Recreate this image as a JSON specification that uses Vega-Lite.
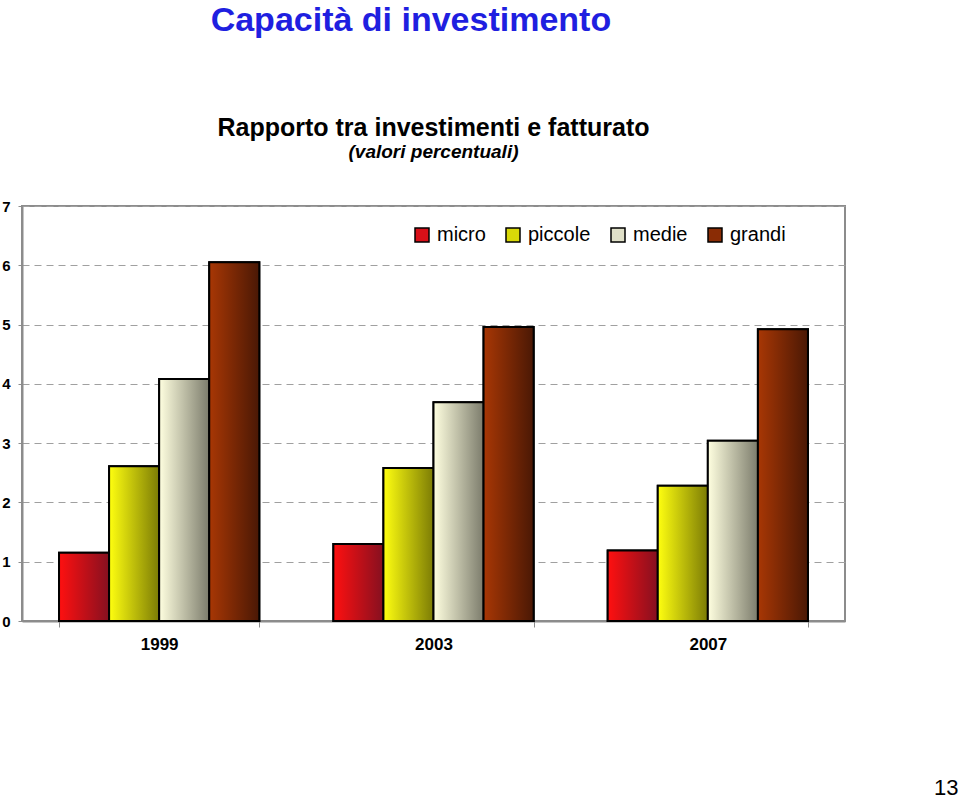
{
  "$schema": "https://vega.github.io/schema/vega-lite/v6.json",
  "padding": {"left": 0, "top": 4, "right": 0, "bottom": 0},
  "background": "white",
  "title": {"text": "Capacità di investimento", "anchor": "start", "dx": 210, "fontSize": 34, "font": "Liberation Sans", "fontWeight": "bold", "color": "#1f1fe0", "offset": 77},
  "config": {
    "view": {"stroke": "#8c8c8c", "strokeWidth": 2},
    "font": "Liberation Sans"
  },
  "vconcat": [
    {
      "width": 823,
      "height": 415,
      "title": {"text": "Rapporto tra investimenti e fatturato", "subtitle": "(valori percentuali)", "anchor": "middle", "fontSize": 25, "fontWeight": "bold", "font": "Liberation Sans", "color": "#000000", "subtitleFontSize": 19, "subtitleFontWeight": "bold", "subtitleFontStyle": "italic", "subtitleFont": "Liberation Sans", "subtitleColor": "#000000", "subtitlePadding": 2, "offset": 37},
      "data": {"values": [
        {"anno": "1999", "dimensione": "micro", "valore": 1.15},
        {"anno": "1999", "dimensione": "piccole", "valore": 2.61},
        {"anno": "1999", "dimensione": "medie", "valore": 4.08},
        {"anno": "1999", "dimensione": "grandi", "valore": 6.05},
        {"anno": "2003", "dimensione": "micro", "valore": 1.30},
        {"anno": "2003", "dimensione": "piccole", "valore": 2.58},
        {"anno": "2003", "dimensione": "medie", "valore": 3.69},
        {"anno": "2003", "dimensione": "grandi", "valore": 4.96},
        {"anno": "2007", "dimensione": "micro", "valore": 1.19},
        {"anno": "2007", "dimensione": "piccole", "valore": 2.28},
        {"anno": "2007", "dimensione": "medie", "valore": 3.04},
        {"anno": "2007", "dimensione": "grandi", "valore": 4.92}
      ]},
      "encoding": {
        "x": {"field": "anno", "type": "nominal", "sort": null,
          "scale": {"paddingInner": 0.27, "paddingOuter": 0.135},
          "axis": {"title": "13", "titleX": 936, "titleY": 173, "titleAlign": "right", "titleBaseline": "alphabetic", "titleFontSize": 22, "titleFontWeight": "normal", "titleColor": "#000000",
            "labelAngle": 0, "labelFontSize": 17, "labelFontWeight": "bold", "labelColor": "#000000", "labelPadding": 9,
            "tickBand": "extent", "ticks": true, "tickSize": 6, "tickColor": "#8c8c8c", "domainColor": "#8c8c8c", "domainWidth": 2, "grid": false}},
        "xOffset": {"field": "dimensione", "type": "nominal", "scale": {"domain": ["micro", "piccole", "medie", "grandi"], "paddingInner": 0, "paddingOuter": 0}},
        "y": {"field": "valore", "type": "quantitative",
          "scale": {"domain": [0, 7], "nice": false},
          "axis": {"title": null, "values": [0, 1, 2, 3, 4, 5, 6, 7], "labelFontSize": 15, "labelFontWeight": "bold", "labelColor": "#000000", "labelPadding": 8, "tickSize": 4, "tickColor": "#8c8c8c", "domainColor": "#8c8c8c", "domainWidth": 2,
            "grid": true, "gridColor": "#a0a0a0", "gridDash": [7, 5], "gridWidth": 1}}
      },
      "layer": [
        {
          "mark": {"type": "bar", "stroke": "#000000", "strokeWidth": 2, "opacity": 1},
          "encoding": {
            "color": {"field": "dimensione", "type": "nominal",
              "scale": {"domain": ["micro", "piccole", "medie", "grandi"], "range": ["#d81018", "#d8d808", "#e0e0c8", "#8a2c05"]},
              "legend": {"title": null, "orient": "none", "legendX": 390, "legendY": 19, "direction": "horizontal", "symbolType": "square", "symbolSize": 196, "symbolStrokeColor": "#000000", "symbolStrokeWidth": 1.5, "symbolOpacity": 1, "labelFontSize": 20, "labelColor": "#000000", "labelOffset": 5, "columnPadding": 17, "labelFont": "Liberation Sans"}}
          }
        },
        {
          "transform": [{"filter": "datum.dimensione === 'micro'"}],
          "mark": {"type": "bar", "stroke": "#000000", "strokeWidth": 2, "opacity": 1,
            "color": {"gradient": "linear", "x1": 0, "y1": 0, "x2": 1, "y2": 0, "stops": [{"offset": 0, "color": "#ff1010"}, {"offset": 1, "color": "#851020"}]}}
        },
        {
          "transform": [{"filter": "datum.dimensione === 'piccole'"}],
          "mark": {"type": "bar", "stroke": "#000000", "strokeWidth": 2, "opacity": 1,
            "color": {"gradient": "linear", "x1": 0, "y1": 0, "x2": 1, "y2": 0, "stops": [{"offset": 0, "color": "#ffff10"}, {"offset": 1, "color": "#7c7c05"}]}}
        },
        {
          "transform": [{"filter": "datum.dimensione === 'medie'"}],
          "mark": {"type": "bar", "stroke": "#000000", "strokeWidth": 2, "opacity": 1,
            "color": {"gradient": "linear", "x1": 0, "y1": 0, "x2": 1, "y2": 0, "stops": [{"offset": 0, "color": "#ffffe0"}, {"offset": 1, "color": "#7c7c6c"}]}}
        },
        {
          "transform": [{"filter": "datum.dimensione === 'grandi'"}],
          "mark": {"type": "bar", "stroke": "#000000", "strokeWidth": 2, "opacity": 1,
            "color": {"gradient": "linear", "x1": 0, "y1": 0, "x2": 1, "y2": 0, "stops": [{"offset": 0, "color": "#a83705"}, {"offset": 1, "color": "#4a1805"}]}}
        }
      ]
    }
  ]
}
